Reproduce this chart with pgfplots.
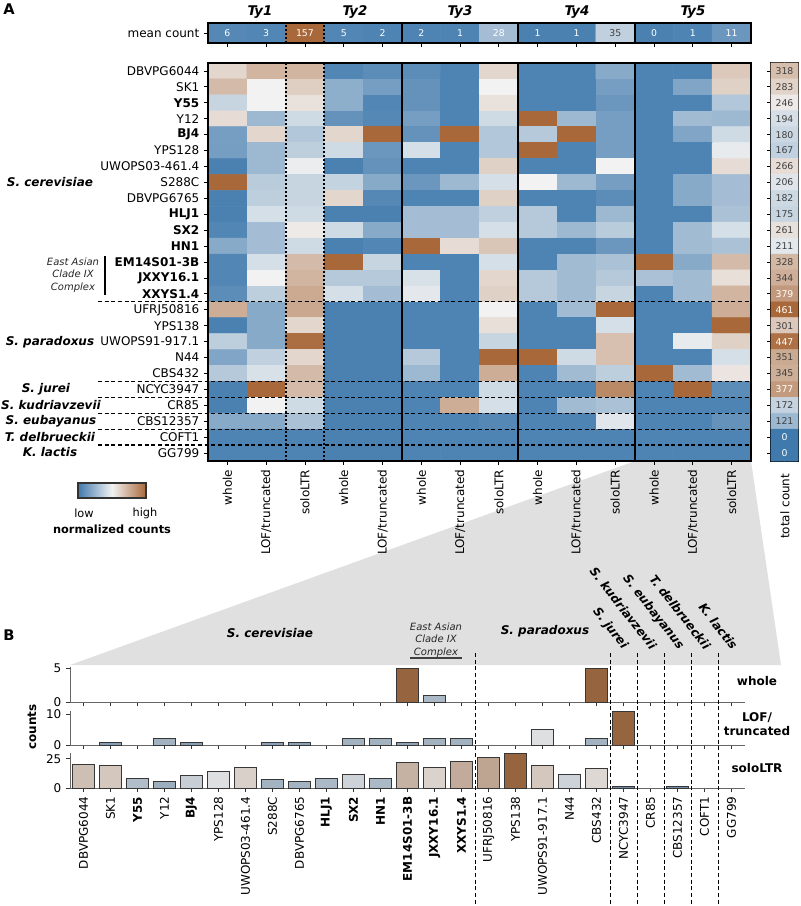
\documentclass[border=0pt]{standalone}
\usepackage{fontspec}
\setmainfont{DejaVu Sans}
\usepackage{pgfplots}
\pgfplotsset{compat=1.18}

\definecolor{hlow}{RGB}{64,122,173}
\definecolor{hmid}{RGB}{242,242,242}
\definecolor{hhigh}{RGB}{168,104,58}
\definecolor{blow}{RGB}{82,117,150}
\definecolor{bmid}{RGB}{230,230,230}
\definecolor{bhigh}{RGB}{150,100,62}
\definecolor{edge}{RGB}{55,55,55}
\pgfplotsset{colormap={bw}{rgb255=(64,122,173) rgb255=(242,242,242) rgb255=(168,104,58)}}

\newcommand\fs{\fontsize{9}{10.8}\selectfont}
\newcommand\fn{\fontsize{7}{8}\selectfont}
\newcommand\spc[1]{\textbf{\textit{#1}}}
% one bar: x, height, colour level (0 low .. 1 high)
\newcommand\bb[3]{%
  \pgfmathtruncatemacro\bbP{(#3<0.5) ? 200*#3 : 200*(1-#3)}%
  \ifdim #3pt<0.5pt \def\bbC{bmid!\bbP!blow}\else\def\bbC{bmid!\bbP!bhigh}\fi
  \edef\bbT{\noexpand\addplot[ybar, bar width=0.8, bar shift=0pt, draw=edge, line width=0.6pt, fill=\bbC] coordinates {(#1,#2)};}\bbT}

\pgfplotsset{
  bpanel/.style={scale only axis, width=506.25pt, xmin=-0.5, xmax=24.5, ymin=0,
    axis x line*=bottom, axis y line*=left, axis line style={black!60, line width=0.6pt},
    xtick={0,...,24}, tick align=outside, major tick length=3pt,
    tick style={black!80, line width=0.6pt}, tick label style={font=\fs},
    /pgf/number format/assume math mode=true, clip=false},
}

\begin{document}
\begin{tikzpicture}
\useasboundingbox (0,0) rectangle (600pt,-679.5pt);

\begin{scope}[x=0.75pt,y=-0.75pt]
  \fill[black!12] (635,461) -- (751,461) -- (781,665) -- (70,665) -- cycle;
\end{scope}

% ---------- A: heatmap ----------
\begin{axis}[
  at={(156pt,-47.25pt)}, anchor=north west,
  scale only axis, width=407.25pt, height=298.5pt,
  xmin=-0.5, xmax=13.5, ymin=-0.5, ymax=24.5, y dir=reverse,
  colormap name=bw, point meta min=0, point meta max=1,
  axis line style={draw=none},
  tick align=outside, major tick length=3pt, tick style={black, line width=0.6pt},
  xtick pos=left, ytick pos=left,
  xtick={0,...,13}, ytick={0,...,24},
  xticklabels={whole,LOF/truncated,soloLTR,whole,LOF/truncated,whole,LOF/truncated,soloLTR,whole,LOF/truncated,soloLTR,whole,LOF/truncated,soloLTR},
  yticklabels={DBVPG6044,SK1,\textbf{Y55},Y12,\textbf{BJ4},YPS128,UWOPS03-461.4,S288C,DBVPG6765,\textbf{HLJ1},\textbf{SX2},\textbf{HN1},\textbf{EM14S01-3B},\textbf{JXXY16.1},\textbf{XXYS1.4},UFRJ50816,YPS138,UWOPS91-917.1,N44,CBS432,NCYC3947,CR85,CBS12357,COFT1,GG799},
  tick label style={font=\fs},
  xticklabel style={rotate=90, anchor=east},
  clip=false,
]
\addplot[matrix plot*, mesh/cols=14, point meta=explicit] coordinates {
(0,0)[0.60] (1,0)[0.72] (2,0)[0.72] (3,0)[0.05] (4,0)[0.08] (5,0)[0.08] (6,0)[0.04] (7,0)[0.60] (8,0)[0.04] (9,0)[0.04] (10,0)[0.20] (11,0)[0.04] (12,0)[0.04] (13,0)[0.65]
(0,1)[0.70] (1,1)[0.50] (2,1)[0.63] (3,1)[0.22] (4,1)[0.15] (5,1)[0.10] (6,1)[0.04] (7,1)[0.50] (8,1)[0.04] (9,1)[0.04] (10,1)[0.15] (11,1)[0.04] (12,1)[0.18] (13,1)[0.62]
(0,2)[0.38] (1,2)[0.50] (2,2)[0.56] (3,2)[0.22] (4,2)[0.05] (5,2)[0.10] (6,2)[0.04] (7,2)[0.56] (8,2)[0.04] (9,2)[0.04] (10,2)[0.12] (11,2)[0.04] (12,2)[0.04] (13,2)[0.32]
(0,3)[0.58] (1,3)[0.26] (2,3)[0.40] (3,3)[0.10] (4,3)[0.06] (5,3)[0.15] (6,3)[0.04] (7,3)[0.40] (8,3)[1.00] (9,3)[0.26] (10,3)[0.15] (11,3)[0.04] (12,3)[0.27] (13,3)[0.26]
(0,4)[0.15] (1,4)[0.60] (2,4)[0.32] (3,4)[0.60] (4,4)[1.00] (5,4)[0.10] (6,4)[1.00] (7,4)[0.32] (8,4)[0.33] (9,4)[1.00] (10,4)[0.15] (11,4)[0.04] (12,4)[0.18] (13,4)[0.40]
(0,5)[0.15] (1,5)[0.26] (2,5)[0.35] (3,5)[0.40] (4,5)[0.12] (5,5)[0.42] (6,5)[0.04] (7,5)[0.32] (8,5)[1.00] (9,5)[0.04] (10,5)[0.15] (11,5)[0.04] (12,5)[0.04] (13,5)[0.47]
(0,6)[0.03] (1,6)[0.26] (2,6)[0.48] (3,6)[0.03] (4,6)[0.10] (5,6)[0.04] (6,6)[0.04] (7,6)[0.62] (8,6)[0.04] (9,6)[0.04] (10,6)[0.50] (11,6)[0.04] (12,6)[0.04] (13,6)[0.58]
(0,7)[1.00] (1,7)[0.34] (2,7)[0.38] (3,7)[0.37] (4,7)[0.20] (5,7)[0.12] (6,7)[0.26] (7,7)[0.42] (8,7)[0.50] (9,7)[0.26] (10,7)[0.15] (11,7)[0.04] (12,7)[0.20] (13,7)[0.28]
(0,8)[0.03] (1,8)[0.35] (2,8)[0.38] (3,8)[0.60] (4,8)[0.06] (5,8)[0.04] (6,8)[0.04] (7,8)[0.62] (8,8)[0.04] (9,8)[0.04] (10,8)[0.08] (11,8)[0.04] (12,8)[0.20] (13,8)[0.28]
(0,9)[0.03] (1,9)[0.42] (2,9)[0.40] (3,9)[0.03] (4,9)[0.03] (5,9)[0.28] (6,9)[0.28] (7,9)[0.36] (8,9)[0.33] (9,9)[0.04] (10,9)[0.26] (11,9)[0.04] (12,9)[0.04] (13,9)[0.30]
(0,10)[0.05] (1,10)[0.28] (2,10)[0.53] (3,10)[0.40] (4,10)[0.20] (5,10)[0.28] (6,10)[0.28] (7,10)[0.42] (8,10)[0.33] (9,10)[0.26] (10,10)[0.34] (11,10)[0.04] (12,10)[0.27] (13,10)[0.42]
(0,11)[0.20] (1,11)[0.28] (2,11)[0.40] (3,11)[0.03] (4,11)[0.05] (5,11)[1.00] (6,11)[0.58] (7,11)[0.66] (8,11)[0.04] (9,11)[0.04] (10,11)[0.12] (11,11)[0.04] (12,11)[0.27] (13,11)[0.30]
(0,12)[0.05] (1,12)[0.42] (2,12)[0.70] (3,12)[1.00] (4,12)[0.38] (5,12)[0.04] (6,12)[0.04] (7,12)[0.42] (8,12)[0.04] (9,12)[0.27] (10,12)[0.30] (11,12)[1.00] (12,12)[0.20] (13,12)[0.70]
(0,13)[0.05] (1,13)[0.50] (2,13)[0.72] (3,13)[0.33] (4,13)[0.33] (5,13)[0.43] (6,13)[0.04] (7,13)[0.60] (8,13)[0.33] (9,13)[0.27] (10,13)[0.33] (11,13)[0.30] (12,13)[0.27] (13,13)[0.57]
(0,14)[0.08] (1,14)[0.35] (2,14)[0.76] (3,14)[0.42] (4,14)[0.28] (5,14)[0.46] (6,14)[0.04] (7,14)[0.62] (8,14)[0.33] (9,14)[0.27] (10,14)[0.38] (11,14)[0.04] (12,14)[0.27] (13,14)[0.72]
(0,15)[0.75] (1,15)[0.20] (2,15)[0.77] (3,15)[0.03] (4,15)[0.03] (5,15)[0.04] (6,15)[0.04] (7,15)[0.50] (8,15)[0.04] (9,15)[0.27] (10,15)[1.00] (11,15)[0.04] (12,15)[0.04] (13,15)[0.75]
(0,16)[0.03] (1,16)[0.20] (2,16)[0.60] (3,16)[0.03] (4,16)[0.03] (5,16)[0.04] (6,16)[0.04] (7,16)[0.57] (8,16)[0.04] (9,16)[0.04] (10,16)[0.42] (11,16)[0.04] (12,16)[0.04] (13,16)[1.00]
(0,17)[0.35] (1,17)[0.20] (2,17)[0.98] (3,17)[0.03] (4,17)[0.03] (5,17)[0.04] (6,17)[0.04] (7,17)[0.38] (8,17)[0.04] (9,17)[0.04] (10,17)[0.68] (11,17)[0.04] (12,17)[0.47] (13,17)[0.62]
(0,18)[0.18] (1,18)[0.36] (2,18)[0.60] (3,18)[0.03] (4,18)[0.03] (5,18)[0.33] (6,18)[0.04] (7,18)[1.00] (8,18)[1.00] (9,18)[0.40] (10,18)[0.68] (11,18)[0.04] (12,18)[0.04] (13,18)[0.42]
(0,19)[0.33] (1,19)[0.43] (2,19)[0.70] (3,19)[0.03] (4,19)[0.03] (5,19)[0.26] (6,19)[0.04] (7,19)[0.75] (8,19)[0.04] (9,19)[0.27] (10,19)[0.35] (11,19)[1.00] (12,19)[0.27] (13,19)[0.55]
(0,20)[0.03] (1,20)[1.00] (2,20)[0.70] (3,20)[0.03] (4,20)[0.03] (5,20)[0.04] (6,20)[0.04] (7,20)[0.40] (8,20)[0.04] (9,20)[0.04] (10,20)[0.88] (11,20)[0.04] (12,20)[1.00] (13,20)[0.08]
(0,21)[0.03] (1,21)[0.50] (2,21)[0.40] (3,21)[0.03] (4,21)[0.03] (5,21)[0.04] (6,21)[0.75] (7,21)[0.42] (8,21)[0.04] (9,21)[0.27] (10,21)[0.30] (11,21)[0.04] (12,21)[0.04] (13,21)[0.04]
(0,22)[0.20] (1,22)[0.20] (2,22)[0.30] (3,22)[0.03] (4,22)[0.03] (5,22)[0.04] (6,22)[0.04] (7,22)[0.06] (8,22)[0.04] (9,22)[0.04] (10,22)[0.45] (11,22)[0.04] (12,22)[0.04] (13,22)[0.10]
(0,23)[0.04] (1,23)[0.04] (2,23)[0.04] (3,23)[0.03] (4,23)[0.03] (5,23)[0.04] (6,23)[0.04] (7,23)[0.04] (8,23)[0.04] (9,23)[0.04] (10,23)[0.04] (11,23)[0.04] (12,23)[0.04] (13,23)[0.04]
(0,24)[0.04] (1,24)[0.04] (2,24)[0.04] (3,24)[0.03] (4,24)[0.03] (5,24)[0.04] (6,24)[0.04] (7,24)[0.04] (8,24)[0.04] (9,24)[0.04] (10,24)[0.04] (11,24)[0.04] (12,24)[0.04] (13,24)[0.04]
};
\draw[black, line width=0.9pt, dash pattern=on 3pt off 2pt] (axis cs:-3.336,14.5) -- (axis cs:13.5,14.5);
\draw[black, line width=0.9pt, dash pattern=on 3pt off 2pt] (axis cs:-3.336,19.5) -- (axis cs:13.5,19.5);
\draw[black, line width=0.9pt, dash pattern=on 3pt off 2pt] (axis cs:-3.336,20.5) -- (axis cs:13.5,20.5);
\draw[black, line width=0.9pt, dash pattern=on 3pt off 2pt] (axis cs:-3.336,21.5) -- (axis cs:13.5,21.5);
\draw[black, line width=0.9pt, dash pattern=on 3pt off 2pt] (axis cs:-3.336,22.5) -- (axis cs:13.5,22.5);
\draw[black, line width=0.9pt, dash pattern=on 3pt off 2pt] (axis cs:-3.336,23.5) -- (axis cs:13.5,23.5);
\draw[black, line width=1.4pt, dash pattern=on 1.4pt off 1.6pt] (axis cs:1.5,-0.5) -- (axis cs:1.5,24.5);
\draw[black, line width=1.4pt, dash pattern=on 1.4pt off 1.6pt] (axis cs:2.5,-0.5) -- (axis cs:2.5,24.5);
\draw[black, line width=1.6pt] (axis cs:-0.5,-0.5) rectangle (axis cs:4.5,24.5);
\draw[black, line width=1.6pt] (axis cs:4.5,-0.5) rectangle (axis cs:7.5,24.5);
\draw[black, line width=1.6pt] (axis cs:7.5,-0.5) rectangle (axis cs:10.5,24.5);
\draw[black, line width=1.6pt] (axis cs:10.5,-0.5) rectangle (axis cs:13.5,24.5);
\end{axis}

% ---------- mean count strip ----------
\begin{axis}[
  at={(156pt,-17.25pt)}, anchor=north west,
  scale only axis, width=407.25pt, height=15pt,
  xmin=-0.5, xmax=13.5, ymin=-0.5, ymax=1.5,
  colormap name=bw, point meta min=0, point meta max=1,
  axis line style={draw=none},
  tick align=outside, major tick length=3pt, tick style={black, line width=0.6pt},
  xtick pos=left, ytick pos=left,
  xtick={0,...,13}, xticklabels={},
  ytick={0.5}, yticklabels={mean count},
  tick label style={font=\fs}, clip=false,
]
\addplot[matrix plot*, mesh/cols=14, point meta=explicit] coordinates {
(0,0)[0.06] (1,0)[0.05] (2,0)[1.00] (3,0)[0.05] (4,0)[0.04] (5,0)[0.04] (6,0)[0.04] (7,0)[0.28] (8,0)[0.03] (9,0)[0.03] (10,0)[0.36] (11,0)[0.03] (12,0)[0.04] (13,0)[0.12]
(0,1)[0.06] (1,1)[0.05] (2,1)[1.00] (3,1)[0.05] (4,1)[0.04] (5,1)[0.04] (6,1)[0.04] (7,1)[0.28] (8,1)[0.03] (9,1)[0.03] (10,1)[0.36] (11,1)[0.03] (12,1)[0.04] (13,1)[0.12]
};
\addplot[draw=none, point meta=explicit symbolic, nodes near coords,
  every node near coord/.append style={anchor=center, font=\fn, text=white}] coordinates {
(0,0.5)[6] (1,0.5)[3] (2,0.5)[157] (3,0.5)[5] (4,0.5)[2] (5,0.5)[2] (6,0.5)[1] (7,0.5)[28] (8,0.5)[1] (9,0.5)[1] (11,0.5)[0] (12,0.5)[1] (13,0.5)[11]};
\addplot[draw=none, point meta=explicit symbolic, nodes near coords,
  every node near coord/.append style={anchor=center, font=\fn, text=black!75}] coordinates {(10,0.5)[35]};
\draw[black, line width=1.4pt, dash pattern=on 1.4pt off 1.6pt] (axis cs:1.5,-0.5) -- (axis cs:1.5,1.5);
\draw[black, line width=1.4pt, dash pattern=on 1.4pt off 1.6pt] (axis cs:2.5,-0.5) -- (axis cs:2.5,1.5);
\draw[black, line width=1.6pt] (axis cs:-0.5,-0.5) rectangle (axis cs:4.5,1.5);
\draw[black, line width=1.6pt] (axis cs:4.5,-0.5) rectangle (axis cs:7.5,1.5);
\draw[black, line width=1.6pt] (axis cs:7.5,-0.5) rectangle (axis cs:10.5,1.5);
\draw[black, line width=1.6pt] (axis cs:10.5,-0.5) rectangle (axis cs:13.5,1.5);
\end{axis}

% ---------- total count column ----------
\begin{axis}[
  at={(578.25pt,-47.25pt)}, anchor=north west,
  scale only axis, width=20.25pt, height=298.5pt,
  xmin=-0.5, xmax=1.5, ymin=-0.5, ymax=24.5, y dir=reverse,
  colormap name=bw, point meta min=0, point meta max=461,
  axis line style={line width=1.6pt},
  tick align=outside, major tick length=3pt, tick style={black, line width=0.6pt},
  xtick=\empty, ytick={0,...,24}, yticklabels={}, ytick pos=left, clip=false,
]
\addplot[matrix plot*, mesh/cols=2, point meta=explicit] coordinates {
(0,0)[318] (1,0)[318] (0,1)[283] (1,1)[283] (0,2)[246] (1,2)[246] (0,3)[194] (1,3)[194] (0,4)[180] (1,4)[180]
(0,5)[167] (1,5)[167] (0,6)[266] (1,6)[266] (0,7)[206] (1,7)[206] (0,8)[182] (1,8)[182] (0,9)[175] (1,9)[175]
(0,10)[261] (1,10)[261] (0,11)[211] (1,11)[211] (0,12)[328] (1,12)[328] (0,13)[344] (1,13)[344] (0,14)[379] (1,14)[379]
(0,15)[461] (1,15)[461] (0,16)[301] (1,16)[301] (0,17)[447] (1,17)[447] (0,18)[351] (1,18)[351] (0,19)[345] (1,19)[345]
(0,20)[377] (1,20)[377] (0,21)[172] (1,21)[172] (0,22)[121] (1,22)[121] (0,23)[0] (1,23)[0] (0,24)[0] (1,24)[0]
};
\addplot[draw=none, point meta=explicit symbolic, nodes near coords,
  every node near coord/.append style={anchor=center, font=\fn, text=black!75}] coordinates {
(0.5,0)[318] (0.5,1)[283] (0.5,2)[246] (0.5,3)[194] (0.5,4)[180] (0.5,5)[167] (0.5,6)[266] (0.5,7)[206] (0.5,8)[182] (0.5,9)[175]
(0.5,10)[261] (0.5,11)[211] (0.5,12)[328] (0.5,13)[344] (0.5,16)[301] (0.5,18)[351] (0.5,19)[345] (0.5,21)[172] (0.5,22)[121]};
\addplot[draw=none, point meta=explicit symbolic, nodes near coords,
  every node near coord/.append style={anchor=center, font=\fn, text=white}] coordinates {
(0.5,14)[379] (0.5,15)[461] (0.5,17)[447] (0.5,20)[377] (0.5,23)[0] (0.5,24)[0]};
\end{axis}

% ---------- B: whole ----------
\begin{axis}[bpanel, at={(52.5pt,-500.25pt)}, anchor=north west, height=26.25pt,
  ymax=5.15, ytick={0,5}, xticklabels={}]
\bb{12}{5}{1}
\bb{13}{1}{0.3}
\bb{19}{5}{1}
\end{axis}

% ---------- B: LOF/truncated ----------
\begin{axis}[bpanel, at={(52.5pt,-533.25pt)}, anchor=north west, height=25.5pt,
  ymax=11, ytick={0,10}, xticklabels={}]
\bb{1}{1}{0.18}
\bb{3}{2}{0.27}
\bb{4}{1}{0.18}
\bb{7}{1}{0.2}
\bb{8}{1}{0.2}
\bb{10}{2}{0.27}
\bb{11}{2}{0.27}
\bb{12}{1}{0.2}
\bb{13}{2}{0.27}
\bb{14}{2}{0.27}
\bb{17}{5}{0.47}
\bb{19}{2}{0.27}
\bb{20}{11}{1}
\end{axis}

% ---------- B: soloLTR ----------
\begin{axis}[bpanel, at={(52.5pt,-564.75pt)}, anchor=north west, height=26.25pt,
  ymax=30, ytick={0,25},
  xticklabels={DBVPG6044,SK1,\textbf{Y55},Y12,\textbf{BJ4},YPS128,UWOPS03-461.4,S288C,DBVPG6765,\textbf{HLJ1},\textbf{SX2},\textbf{HN1},\textbf{EM14S01-3B},\textbf{JXXY16.1},\textbf{XXYS1.4},UFRJ50816,YPS138,UWOPS91-917.1,N44,CBS432,NCYC3947,CR85,CBS12357,COFT1,GG799},
  xticklabel style={rotate=90, anchor=east}]
\bb{0}{20}{0.65}
\bb{1}{19}{0.62}
\bb{2}{8}{0.32}
\bb{3}{6}{0.26}
\bb{4}{11}{0.40}
\bb{5}{14}{0.47}
\bb{6}{18}{0.58}
\bb{7}{7}{0.28}
\bb{8}{6}{0.28}
\bb{9}{8}{0.30}
\bb{10}{12}{0.42}
\bb{11}{8}{0.30}
\bb{12}{22}{0.70}
\bb{13}{18}{0.57}
\bb{14}{23}{0.72}
\bb{15}{26}{0.75}
\bb{16}{30}{1}
\bb{17}{19}{0.62}
\bb{18}{12}{0.42}
\bb{19}{17}{0.55}
\bb{20}{1}{0.08}
\bb{22}{1}{0.10}
\end{axis}

% ---------- annotations ----------
\begin{scope}[x=0.75pt,y=-0.75pt]
  \node[font=\fontsize{11}{12}\selectfont\bfseries] at (9,9) {A};
  \node[font=\fontsize{11}{12}\selectfont\bfseries] at (9,635) {B};
  \node[font=\fontsize{10}{12}\selectfont] at (260,12) {\spc{Ty1}};
  \node[font=\fontsize{10}{12}\selectfont] at (355,12) {\spc{Ty2}};
  \node[font=\fontsize{10}{12}\selectfont] at (460,12) {\spc{Ty3}};
  \node[font=\fontsize{10}{12}\selectfont] at (577,12) {\spc{Ty4}};
  \node[font=\fontsize{10}{12}\selectfont] at (693,12) {\spc{Ty5}};
  \node[font=\fs] at (50,182) {\spc{S. cerevisiae}};
  \node[font=\fs] at (50,342) {\spc{S. paradoxus}};
  \node[font=\fs] at (46,389) {\spc{S. jurei}};
  \node[font=\fs] at (51,405) {\spc{S. kudriavzevii}};
  \node[font=\fs] at (51,421) {\spc{S. eubayanus}};
  \node[font=\fs] at (50,437) {\spc{T. delbrueckii}};
  \node[font=\fs] at (50,452) {\spc{K. lactis}};
  \node[font=\fontsize{7.5}{9.5}\selectfont\itshape, align=center, text=black!85] at (73,275) {East Asian\\Clade IX\\Complex};
  \draw[black, line width=0.8pt] (105,256) -- (105,295);
  % colour key
  \shade[left color=hlow, right color=hhigh, middle color=hmid] (78,483) rectangle (146,498);
  \draw[black!80, line width=0.8pt] (78,483) rectangle (146,498);
  \node[font=\fontsize{8.5}{10}\selectfont] at (84,513) {low};
  \node[font=\fontsize{8.5}{10}\selectfont] at (145,513) {high};
  \node[font=\fontsize{8.5}{10}\selectfont\bfseries] at (112,529) {normalized counts};
  \node[font=\fs, rotate=90, anchor=east] at (785,469) {total count};
  % B annotations
  \node[font=\fs] at (270,633) {\spc{S. cerevisiae}};
  \node[font=\fs] at (545,631) {\spc{S. paradoxus}};
  \node[font=\fontsize{7.5}{9.5}\selectfont\itshape, align=center, text=black!85] at (436,640) {East Asian\\Clade IX\\Complex};
  \draw[black!75, line width=1.1pt] (410,658) -- (462,658);
  \node[font=\fs, rotate=-52, anchor=east, inner sep=1pt] at (626,649) {\spc{S. jurei}};
  \node[font=\fs, rotate=-52, anchor=east, inner sep=1pt] at (655,649) {\spc{S. kudriavzevii}};
  \node[font=\fs, rotate=-52, anchor=east, inner sep=1pt] at (682,649) {\spc{S. eubayanus}};
  \node[font=\fs, rotate=-52, anchor=east, inner sep=1pt] at (709,649) {\spc{T. delbrueckii}};
  \node[font=\fs, rotate=-52, anchor=east, inner sep=1pt] at (736,649) {\spc{K. lactis}};
  \foreach \xx in {475.1,610.3,637.3,664.4,691.4,718.5}
    \draw[black, line width=0.9pt, dash pattern=on 3pt off 2pt] (\xx,653) -- (\xx,906);
  \node[font=\fs\bfseries] at (757,681) {whole};
  \node[font=\fs\bfseries, align=center] at (757,724) {LOF/\\truncated};
  \node[font=\fs\bfseries] at (757,768) {soloLTR};
  \node[font=\fs\bfseries, rotate=90] at (32,727) {counts};
\end{scope}
\end{tikzpicture}
\end{document}
